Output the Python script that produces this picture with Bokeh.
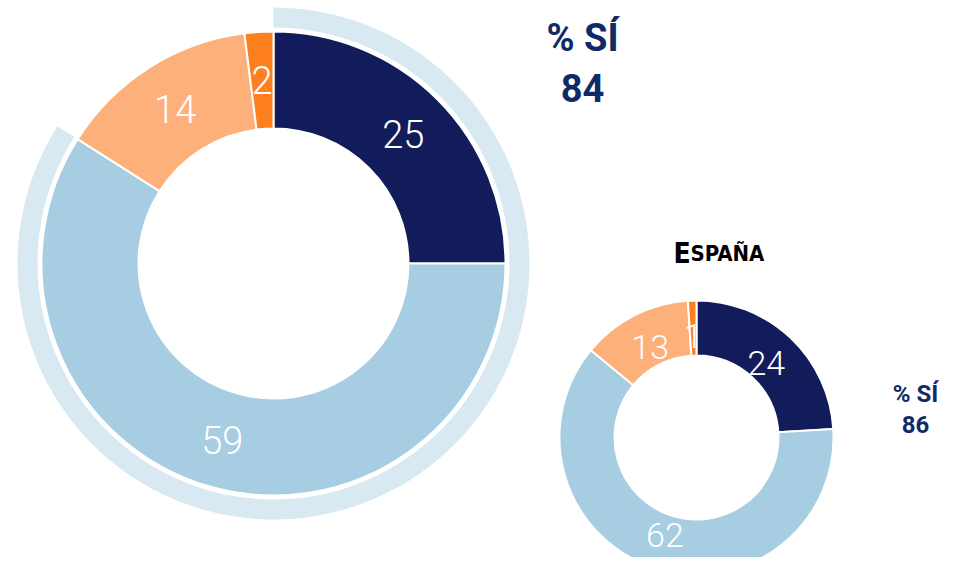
import math
from bokeh.plotting import figure
from bokeh.models import Range1d
from bokeh.core.properties import value
from bokeh.embed import file_html
from bokeh.resources import INLINE

# ---- data ----
categories = ["Sí, mucho", "Sí, algo", "No mucho", "No, nada"]
region_values = [25, 59, 14, 2]
spain_values = [24, 62, 13, 1]
region_si = 84
spain_si = 86
spain_title = "España"
colors = ["#131c5a", "#a6cde1", "#fdb07a", "#fd7f1e"]
halo_color = "#d9e9f2"
title_color = "#0f2a66"

W, H = 945, 557
TOP = 573  # data y of the top edge; data y = TOP - pixel row
p = figure(width=W, height=H, output_backend="svg", toolbar_location=None,
           x_range=Range1d(0, W), y_range=Range1d(TOP - H, TOP),
           min_border=0)
p.axis.visible = False
p.grid.visible = False
p.outline_line_color = None

LABEL_FONT = value("'Roboto Light', Roboto")


def donut(cx, cy, r_in, r_out, vals, fsize, label_r, halo=None):
    total = sum(vals)
    starts, ends, cum = [], [], 0.0
    for v in vals:
        starts.append(math.pi / 2 - 2 * math.pi * cum / total)
        cum += v
        ends.append(math.pi / 2 - 2 * math.pi * cum / total)
    if halo is not None:
        h_in, h_out, frac = halo
        p.annular_wedge(x=[cx], y=[cy], inner_radius=h_in, outer_radius=h_out,
                        start_angle=[math.pi / 2], end_angle=[math.pi / 2 - 2 * math.pi * frac / 100],
                        direction="clock", fill_color=halo_color, line_color=None)
    p.annular_wedge(x=[cx] * len(vals), y=[cy] * len(vals), inner_radius=r_in, outer_radius=r_out,
                    start_angle=starts, end_angle=ends, direction="clock",
                    fill_color=colors, line_color="white", line_width=2)
    xs, ys, ts = [], [], []
    for s, e, v in zip(starts, ends, vals):
        m = (s + e) / 2
        xs.append(cx + label_r * math.cos(m))
        ys.append(cy + label_r * math.sin(m))
        ts.append(str(v))
    p.text(x=xs, y=ys, text=ts, text_color="white", text_font=LABEL_FONT,
           text_font_size=f"{fsize}px", text_align="center", text_baseline="middle")


# large donut (region)
donut(273, TOP - 263, 135, 232, region_values, 38, 183.5, halo=(236, 256, region_si))
# small donut (Spain)
donut(696, TOP - 437, 82, 137, spain_values, 34, 102)

# "% SÍ" labels
p.text(x=[582, 582], y=[TOP - 37, TOP - 87], text=["% SÍ", str(region_si)],
       text_color=title_color, text_font=value("Roboto"), text_font_style="bold",
       text_font_size="38px", text_align="center", text_baseline="alphabetic")
p.text(x=[915, 915], y=[TOP - 393, TOP - 424], text=["% SÍ", str(spain_si)],
       text_color=title_color, text_font=value("Roboto"), text_font_style="bold",
       text_font_size="24px", text_align="center", text_baseline="alphabetic")

# "España" in small caps
first, rest = spain_title[0].upper(), spain_title[1:].upper()
p.text(x=[673], y=[TOP - 253], text=[first], text_color="black",
       text_font=value("DejaVu Sans Condensed"), text_font_style="bold",
       text_font_size="28px", text_align="left", text_baseline="alphabetic")
p.text(x=[690], y=[TOP - 253], text=[rest], text_color="black",
       text_font=value("DejaVu Sans Condensed"), text_font_style="bold",
       text_font_size="22px", text_align="left", text_baseline="alphabetic")

open("out.html", "w").write(file_html(p, INLINE))
